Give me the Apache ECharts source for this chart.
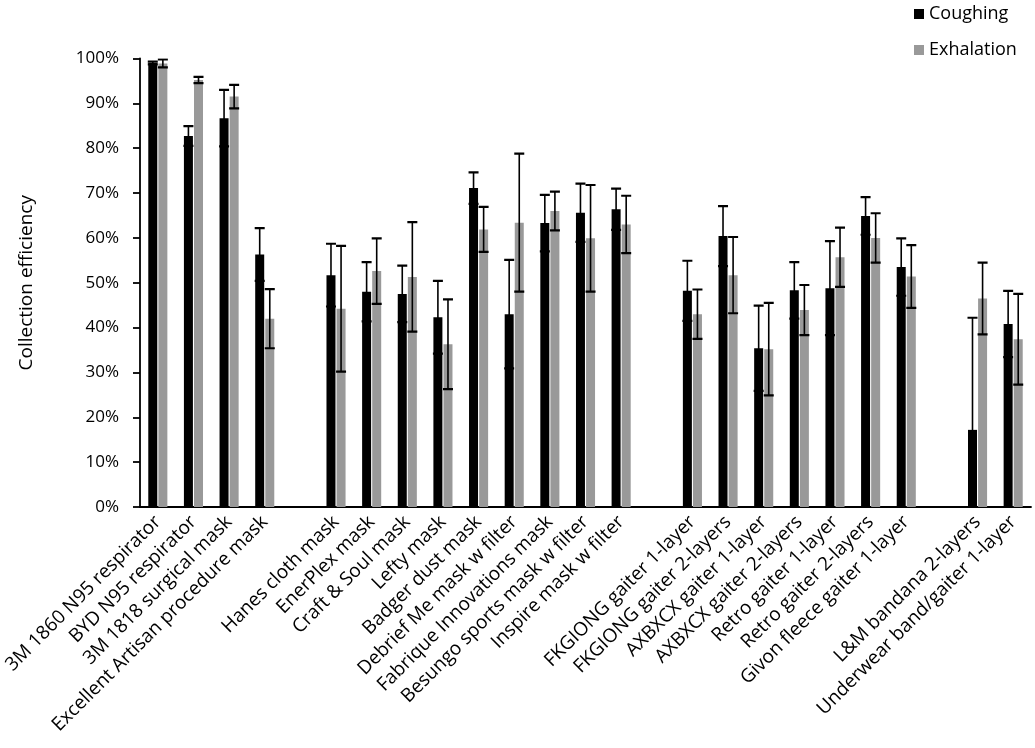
<!DOCTYPE html>
<html>
<head>
<meta charset="utf-8">
<script src="https://cdn.jsdelivr.net/npm/echarts@6/dist/echarts.min.js"></script>
<style>
html,body{margin:0;padding:0;background:#fff;}
#chart{width:1035px;height:748px;}
</style>
</head>
<body>
<div id="chart"></div>
<script>
// Categories ('' = spacer between groups)
const categories = [
  '3M 1860 N95 respirator','BYD N95 respirator','3M 1818 surgical mask','Excellent Artisan procedure mask',
  '',
  'Hanes cloth mask','EnerPlex mask','Craft & Soul mask','Lefty mask','Badger dust mask',
  'Debrief Me mask w filter','Fabrique Innovations mask','Besungo sports mask w filter','Inspire mask w filter',
  '',
  'FKGIONG gaiter 1-layer','FKGIONG gaiter 2-layers','AXBXCX gaiter 1-layer','AXBXCX gaiter 2-layers',
  'Retro gaiter 1-layer','Retro gaiter 2-layers','Givon fleece gaiter 1-layer',
  '',
  'L&M bandana 2-layers','Underwear band/gaiter 1-layer'
];
const seriesNames = ['Coughing','Exhalation'];
// Mean collection efficiency (%)
const coughing = [99.0, 82.7, 86.7, 56.3, null, 51.7, 48.0, 47.5, 42.3, 71.1, 43.0, 63.3, 65.6, 66.4, null, 48.2, 60.4, 35.4, 48.3, 48.8, 64.9, 53.5, null, 17.2, 40.8];
const exhalation = [98.9, 95.2, 91.5, 42.0, null, 44.2, 52.6, 51.3, 36.3, 61.9, 63.4, 66.0, 59.9, 63.0, null, 43.0, 51.7, 35.2, 43.9, 55.7, 60.0, 51.4, null, 46.5, 37.4];
// Error bar half-widths (%)
const coughingErr = [0.3, 2.2, 6.3, 5.9, null, 7.0, 6.6, 6.3, 8.1, 3.5, 12.1, 6.3, 6.5, 4.6, null, 6.7, 6.7, 9.5, 6.3, 10.5, 4.2, 6.4, null, 25.0, 7.4];
const exhalationErr = [0.9, 0.7, 2.6, 6.6, null, 14.0, 7.3, 12.2, 10.0, 5.0, 15.4, 4.3, 11.9, 6.4, null, 5.5, 8.5, 10.3, 5.6, 6.6, 5.5, 7.0, null, 8.0, 10.1];
const yTicks = { min: 0, max: 100, interval: 10 };

const BAR_W = 9, BAR_GAP = 0.12;
const FONT = '"Open Sans", Lato, sans-serif';

function errData(vals, errs) {
  const out = [];
  vals.forEach((v, i) => { if (v != null) out.push([i, v - errs[i], v + errs[i]]); });
  return out;
}
function errRender(sign) {
  return function (params, api) {
    const idx = api.value(0);
    const lo = api.coord([idx, api.value(1)]);
    const hi = api.coord([idx, api.value(2)]);
    const x = lo[0] + sign * BAR_W * (1 + BAR_GAP) / 2;
    const cap = 5;
    const st = { stroke: '#000', lineWidth: 1.6 };
    const cs = { stroke: '#000', lineWidth: 2.2 };
    return {
      type: 'group',
      children: [
        { type: 'line', shape: { x1: x, y1: lo[1], x2: x, y2: hi[1] }, style: st },
        { type: 'line', shape: { x1: x - cap, y1: hi[1], x2: x + cap, y2: hi[1] }, style: cs },
        { type: 'line', shape: { x1: x - cap, y1: lo[1], x2: x + cap, y2: lo[1] }, style: cs }
      ]
    };
  };
}

const chart = echarts.init(document.getElementById('chart'), null, { renderer: 'canvas' });
chart.setOption({
  animation: false,
  backgroundColor: '#fff',
  textStyle: { fontFamily: FONT, color: '#000' },
  legend: {
    data: seriesNames.map(n => ({ name: n, icon: 'rect' })),
    orient: 'vertical',
    left: 909, top: 0,
    itemWidth: 10, itemHeight: 10, itemGap: 18,
    textStyle: { fontFamily: FONT, fontSize: 18, color: '#000' }
  },
  grid: { left: 140, right: 4, top: 58.5, bottom: 241, containLabel: false },
  xAxis: {
    type: 'category',
    data: categories,
    axisLine: { lineStyle: { color: '#000', width: 1.8 } },
    axisTick: { show: false },
    axisLabel: { rotate: 45, interval: 0, margin: 12, fontFamily: FONT, fontSize: 19, color: '#000' }
  },
  yAxis: {
    type: 'value',
    min: yTicks.min, max: yTicks.max, interval: yTicks.interval,
    name: 'Collection efficiency',
    nameLocation: 'middle', nameGap: 104,
    nameTextStyle: { fontFamily: FONT, fontSize: 19, color: '#000' },
    axisLine: { show: true, lineStyle: { color: '#000', width: 1.8 } },
    axisTick: { show: true, length: 7, lineStyle: { color: '#000', width: 1.8 } },
    axisLabel: { formatter: '{value}%', margin: 21, fontFamily: FONT, fontSize: 17, color: '#000' },
    splitLine: { show: false }
  },
  series: [
    { name: seriesNames[0], type: 'bar', data: coughing, barWidth: BAR_W, barGap: (BAR_GAP * 100) + '%', itemStyle: { color: '#000000' } },
    { name: seriesNames[1], type: 'bar', data: exhalation, barWidth: BAR_W, barGap: (BAR_GAP * 100) + '%', itemStyle: { color: '#999999' } },
    { type: 'custom', name: 'errC', data: errData(coughing, coughingErr), renderItem: errRender(-1), clip: true, z: 10, silent: true },
    { type: 'custom', name: 'errE', data: errData(exhalation, exhalationErr), renderItem: errRender(1), clip: true, z: 10, silent: true }
  ]
});
</script>
</body>
</html>
